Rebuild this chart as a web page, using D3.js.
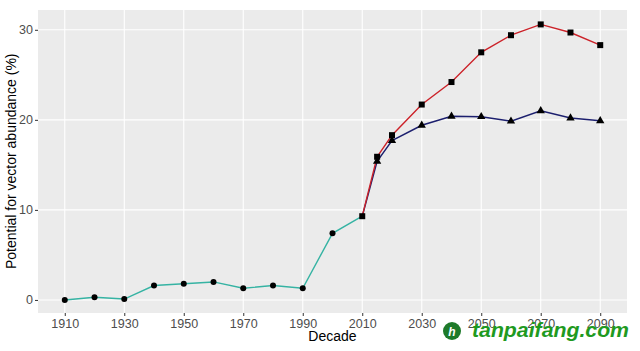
<!DOCTYPE html>
<html>
<head>
<meta charset="utf-8">
<script src="https://cdn.jsdelivr.net/npm/d3@7"></script>
<style>
  body { margin: 0; background: #fff; }
  svg { display: block; font-family: "Liberation Sans", Arial, sans-serif; }
</style>
</head>
<body>
<div id="chart"></div>
<script>
// observed decades (teal)
var histDecades = [1910, 1920, 1930, 1940, 1950, 1960, 1970, 1980, 1990, 2000, 2010]
var histValues = [0, 0.3, 0.1, 1.6, 1.8, 2.0, 1.3, 1.6, 1.3, 7.4, 9.3]

// projections
var projDecades = [2010, 2015, 2020, 2030, 2040, 2050, 2060, 2070, 2080, 2090]
var highValues = [9.3, 15.9, 18.3, 21.7, 24.2, 27.5, 29.4, 30.6, 29.7, 28.3]
var lowValues = [9.3, 15.4, 17.7, 19.4, 20.4, 20.35, 19.85, 21.0, 20.2, 19.9]

var xTicks = [1910, 1930, 1950, 1970, 1990, 2010, 2030, 2050, 2070, 2090]
var yTicks = [0, 10, 20, 30]

var W = 640, H = 351
var margin = { top: 10, right: 13, bottom: 38, left: 38 }

var svg = d3.select('#chart').append('svg')
  .attr('width', W).attr('height', H)

var x = d3.scaleLinear().domain([1901, 2099]).range([margin.left, W - margin.right])
var y = d3.scaleLinear().domain([-1.45, 32.2]).range([H - margin.bottom, margin.top])

// panel background
svg.append('rect')
  .attr('x', margin.left).attr('y', margin.top)
  .attr('width', W - margin.left - margin.right)
  .attr('height', H - margin.top - margin.bottom)
  .attr('fill', '#ebebeb')

// grid lines
svg.append('g').selectAll('line').data(xTicks).join('line')
  .attr('x1', d => x(d)).attr('x2', d => x(d))
  .attr('y1', margin.top).attr('y2', H - margin.bottom)
  .attr('stroke', '#fff').attr('stroke-width', 1.1)
svg.append('g').selectAll('line').data(yTicks).join('line')
  .attr('y1', d => y(d)).attr('y2', d => y(d))
  .attr('x1', margin.left).attr('x2', W - margin.right)
  .attr('stroke', '#fff').attr('stroke-width', 1.1)

// axes
var xAxis = svg.append('g')
  .attr('transform', 'translate(0,' + (H - margin.bottom) + ')')
  .call(d3.axisBottom(x).tickValues(xTicks).tickFormat(d3.format('d')).tickSize(3).tickPadding(3))
var yAxis = svg.append('g')
  .attr('transform', 'translate(' + margin.left + ',0)')
  .call(d3.axisLeft(y).tickValues(yTicks).tickSize(3).tickPadding(2))
;[xAxis, yAxis].forEach(function (a) {
  a.select('.domain').remove()
  a.selectAll('.tick line').attr('stroke', '#333')
  a.selectAll('.tick text').attr('fill', '#4d4d4d').style('font-size', '12.5px')
})

// titles
svg.append('text')
  .attr('x', x(2000)).attr('y', 341)
  .attr('text-anchor', 'middle')
  .style('font-size', '14px').attr('fill', '#000')
  .text('Decade')
svg.append('text')
  .attr('transform', 'translate(16,' + y(15.4) + ') rotate(-90)')
  .attr('text-anchor', 'middle')
  .style('font-size', '14px').attr('fill', '#000')
  .text('Potential for vector abundance (%)')

var hist = histDecades.map((d, i) => [d, histValues[i]])
var high = projDecades.map((d, i) => [d, highValues[i]])
var low = projDecades.map((d, i) => [d, lowValues[i]])

var line = d3.line().x(d => x(d[0])).y(d => y(d[1]))

svg.append('path').datum(hist)
  .attr('fill', 'none').attr('stroke', '#35b3a3').attr('stroke-width', 1.4)
  .attr('d', line)
svg.append('path').datum(low)
  .attr('fill', 'none').attr('stroke', '#1c1f6e').attr('stroke-width', 1.4)
  .attr('d', line)
svg.append('path').datum(high)
  .attr('fill', 'none').attr('stroke', '#cc2229').attr('stroke-width', 1.4)
  .attr('d', line)

// markers
svg.append('g').selectAll('circle').data(hist.slice(0, -1)).join('circle')
  .attr('cx', d => x(d[0])).attr('cy', d => y(d[1])).attr('r', 3)
  .attr('fill', '#000')
svg.append('g').selectAll('path').data(low.slice(1)).join('path')
  .attr('transform', d => 'translate(' + x(d[0]) + ',' + y(d[1]) + ')')
  .attr('d', d3.symbol().type(d3.symbolTriangle).size(30))
  .attr('fill', '#000')
svg.append('g').selectAll('rect').data(high).join('rect')
  .attr('x', d => x(d[0]) - 3).attr('y', d => y(d[1]) - 3)
  .attr('width', 6).attr('height', 6)
  .attr('fill', '#000')

// watermark
var wm = svg.append('g')
wm.append('circle').attr('cx', 452).attr('cy', 331).attr('r', 9).attr('fill', '#1e7a2a')
wm.append('text').attr('x', 452).attr('y', 336)
  .attr('text-anchor', 'middle').attr('fill', '#fff')
  .style('font-size', '12px').style('font-weight', 'bold').style('font-style', 'italic')
  .text('h')
wm.append('text').attr('x', 472).attr('y', 337)
  .attr('textLength', 157).attr('lengthAdjust', 'spacingAndGlyphs')
  .attr('fill', '#1f9a1f')
  .style('font-size', '21px').style('font-weight', 'bold').style('font-style', 'italic')
  .text('tanpaifang.com')
</script>
</body>
</html>
